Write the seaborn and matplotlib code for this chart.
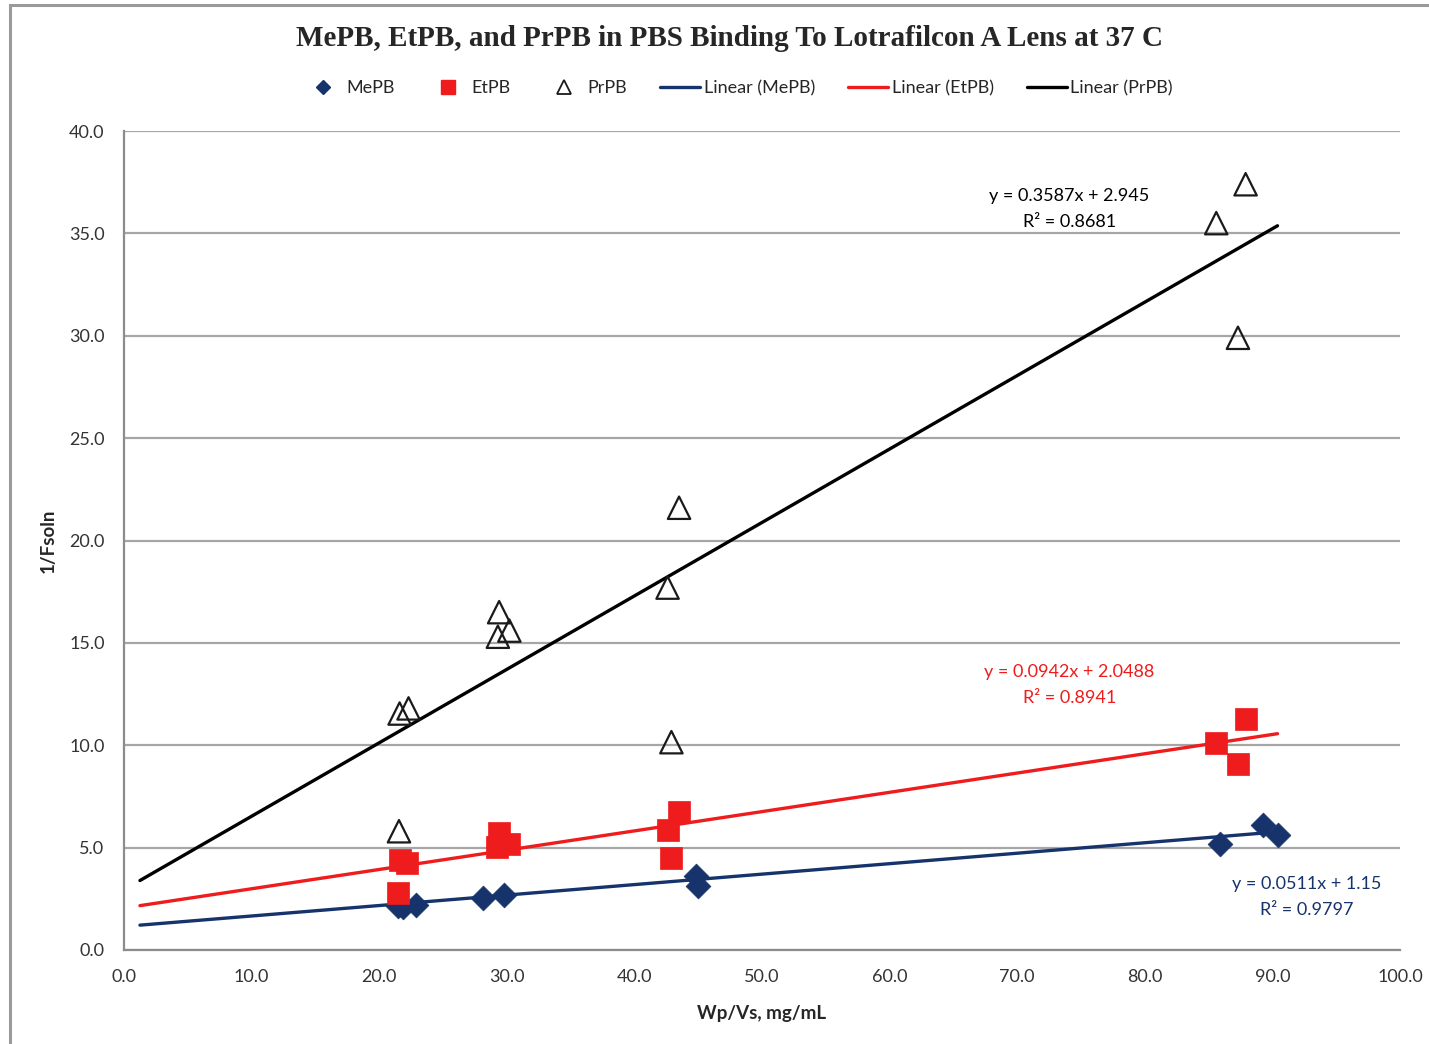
import numpy as np
import pandas as pd
import matplotlib
matplotlib.use("Agg")
import matplotlib.pyplot as plt
from matplotlib.lines import Line2D
from matplotlib.patches import Rectangle
import seaborn as sns

# Wp/Vs (mg/mL) and 1/Fsoln for each paraben
mepb_x = [21.5, 21.9, 22.9, 28.1, 29.8, 44.8, 45.0, 85.9, 89.3, 90.4]
mepb_y = [2.15, 2.1, 2.2, 2.55, 2.7, 3.6, 3.15, 5.2, 6.1, 5.6]

etpb_x = [21.5, 21.6, 22.2, 29.4, 29.2, 30.2, 42.6, 43.5, 42.9, 85.6, 87.9, 87.3]
etpb_y = [2.8, 4.4, 4.25, 5.7, 5.05, 5.2, 5.85, 6.75, 4.5, 10.1, 11.3, 9.1]

prpb_x = [21.55, 21.6, 22.3, 29.4, 29.3, 30.2, 42.6, 43.5, 42.9, 85.6, 87.9, 87.3]
prpb_y = [5.8, 11.55, 11.8, 16.5, 15.3, 15.6, 17.7, 21.6, 10.15, 35.5, 37.4, 29.9]

# Linear trendlines (slope, intercept, R²)
series_names = ["MePB", "EtPB", "PrPB"]
trend_slope = [0.0511, 0.0942, 0.3587]
trend_icpt = [1.15, 2.0488, 2.945]
trend_r2 = ["0.9797", "0.8941", "0.8681"]
trend_xrange = [1.25, 90.4]

x_ticks = [0, 10, 20, 30, 40, 50, 60, 70, 80, 90, 100]
y_ticks = [0, 5, 10, 15, 20, 25, 30, 35, 40]

navy = "#17336b"
red = "#ee1c1c"
black = "#000000"
colors = [navy, red, black]

sns.set_theme(style="white")
plt.rcParams["font.family"] = ["Lato", "DejaVu Sans"]

fig = plt.figure(figsize=(14.29, 10.44), dpi=100)
ax = fig.add_axes([124 / 1429, 1 - 950 / 1044, (1400 - 124) / 1429, (950 - 131) / 1044])

# outer chart frame
fig.patches.append(Rectangle((10 / 1429, -0.05), 1.1, 1 - 5 / 1044 + 0.05,
                             transform=fig.transFigure, fill=False,
                             edgecolor="#9a9a9a", linewidth=2.2, zorder=0))

# trendlines
for name, m, b, c in zip(series_names, trend_slope, trend_icpt, colors):
    xs = np.array(trend_xrange)
    line_df = pd.DataFrame({"x": xs, "y": m * xs + b})
    sns.lineplot(data=line_df, x="x", y="y", ax=ax, color=c, linewidth=2.4,
                 legend=False, zorder=3)

# data points
df_me = pd.DataFrame({"x": mepb_x, "y": mepb_y})
df_et = pd.DataFrame({"x": etpb_x, "y": etpb_y})
df_pr = pd.DataFrame({"x": prpb_x, "y": prpb_y})
sns.scatterplot(data=df_me, x="x", y="y", ax=ax, marker="D", s=160,
                color=navy, edgecolor=navy, linewidth=0.5, zorder=4, legend=False)
sns.scatterplot(data=df_et, x="x", y="y", ax=ax, marker="s", s=260,
                color=red, edgecolor=red, linewidth=0.5, zorder=4, legend=False)
sns.scatterplot(data=df_pr, x="x", y="y", ax=ax, marker="^", s=260,
                facecolor="none", edgecolor="#1a1a1a", linewidth=1.6,
                zorder=4, legend=False)

ax.set_xlim(0, 100)
ax.set_ylim(0, 40)
ax.set_xticks(x_ticks)
ax.set_yticks(y_ticks)
ax.set_xticklabels([f"{v:.1f}" for v in x_ticks], fontsize=13, color="#333333")
ax.set_yticklabels([f"{v:.1f}" for v in y_ticks], fontsize=13, color="#333333")
ax.yaxis.grid(True, color="#a6a6a6", linewidth=1.6)
ax.xaxis.grid(False)
for side in ["top", "right"]:
    ax.spines[side].set_visible(False)
for side in ["left", "bottom"]:
    ax.spines[side].set_color("#8c8c8c")
    ax.spines[side].set_linewidth(1.6)
ax.tick_params(axis="both", which="major", direction="out", length=6,
               width=1.4, color="#8c8c8c", pad=8)

ax.set_xlabel("Wp/Vs, mg/mL", fontsize=13.5, fontweight="bold", labelpad=14)
ax.set_ylabel("1/Fsoln", fontsize=13.5, fontweight="bold", labelpad=9)

# trendline equations
eq_pos = [(92.7, 2.6), (74.1, 12.95), (74.1, 36.2)]
for m, b, r2, c, (ex, ey) in zip(trend_slope, trend_icpt, trend_r2, colors, eq_pos):
    ax.text(ex, ey, f"y = {m}x + {b}\nR² = {r2}", color=c, fontsize=13,
            ha="center", va="center", linespacing=1.75, zorder=5)

# title
fig.text(729 / 1429, 1 - 38 / 1044,
         "MePB, EtPB, and PrPB in PBS Binding To Lotrafilcon A Lens at 37 C",
         ha="center", va="center", fontsize=21, fontweight="bold",
         family=["Liberation Serif", "DejaVu Serif"])

# legend
handles = [
    Line2D([], [], linestyle="none", marker="D", markersize=7, color=navy),
    Line2D([], [], linestyle="none", marker="s", markersize=10, color=red),
    Line2D([], [], linestyle="none", marker="^", markersize=10,
           markerfacecolor="none", markeredgecolor="#1a1a1a", markeredgewidth=1.3),
    Line2D([], [], color=navy, linewidth=2.4),
    Line2D([], [], color=red, linewidth=2.4),
    Line2D([], [], color=black, linewidth=2.4),
]
labels = ["MePB", "EtPB", "PrPB", "Linear (MePB)", "Linear (EtPB)", "Linear (PrPB)"]
fig.legend(handles, labels, loc="center", bbox_to_anchor=(738 / 1429, 1 - 88 / 1044),
           ncol=6, frameon=False, fontsize=13, handlelength=2.2, columnspacing=1.85,
           handletextpad=0.2)

fig.savefig("out.png", dpi=100)
